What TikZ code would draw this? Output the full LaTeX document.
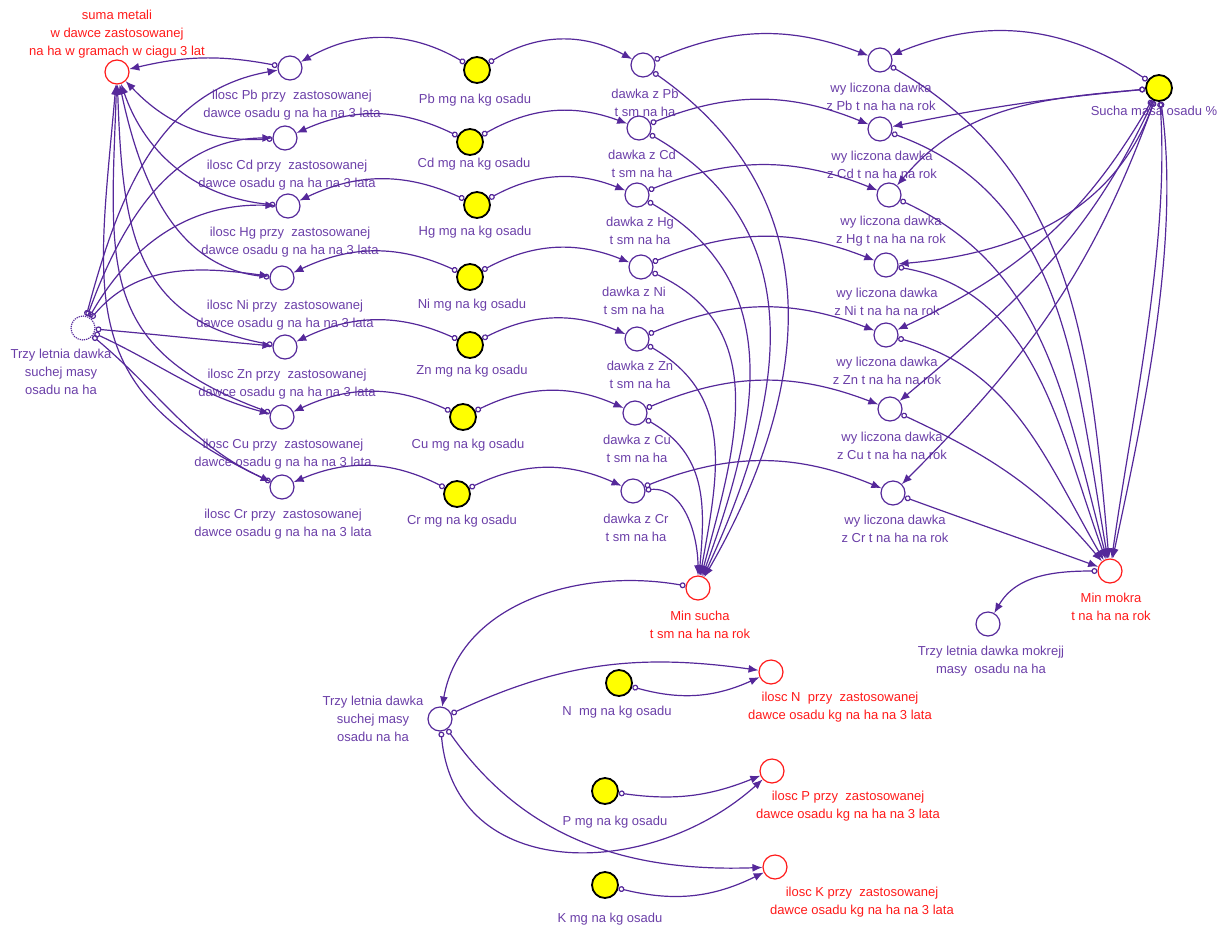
\documentclass[tikz,border=0pt]{standalone}
\usepackage{fontspec}
\setmainfont{Liberation Sans}
\usetikzlibrary{arrows.meta}
\definecolor{VenLine}{HTML}{55289A}
\definecolor{VenText}{HTML}{6B3FA8}
\definecolor{VenRed}{HTML}{FF1A1A}
\definecolor{VenYellow}{HTML}{FFFF00}

\begin{document}
\begin{tikzpicture}[x=1pt, y=-1pt,
        var/.style={circle, draw=VenLine, line width=1.2pt, minimum size=24pt, inner sep=0pt},
        result/.style={var, draw=VenRed},
        ghost/.style={var, densely dotted},
        const/.style={circle, draw=black, fill=VenYellow, line width=1.8pt, minimum size=26pt, inner sep=0pt},
        lbl/.style={font=\fontsize{13}{18}\selectfont, text=VenText, align=center},
        rlbl/.style={lbl, text=VenRed},
        link/.style={draw=VenLine, line width=1.2pt, {Circle[open,length=6pt,width=6pt]}-{Latex[length=10pt,width=8pt]}}
    ]
        \useasboundingbox (0,0) rectangle (1224,927);

        % Suma metali
        \node[result] (suma) at (117,72) {};
        \node[rlbl] (sumaTxt) at (117,34) {suma metali\\w dawce zastosowanej\\na ha w gramach w ciagu 3 lat};

        % Shadow of three-year dose
        \node[ghost] (trzyG) at (83,328) {};
        \node[lbl] (trzyGTxt) at (61,372) {Trzy letnia dawka\\suchej masy\\osadu na ha};

        % Ilosc column
        \node[var] (iloscPb) at (290,68) {};
        \node[lbl] (iloscPbTxt) at (292,105) {ilosc Pb przy~~zastosowanej\\dawce osadu g na ha na 3 lata};
        \node[var] (iloscCd) at (285,138) {};
        \node[lbl] (iloscCdTxt) at (287,175) {ilosc Cd przy~~zastosowanej\\dawce osadu g na ha na 3 lata};
        \node[var] (iloscHg) at (288,206) {};
        \node[lbl] (iloscHgTxt) at (290,242) {ilosc Hg przy~~zastosowanej\\dawce osadu g na ha na 3 lata};
        \node[var] (iloscNi) at (282,278) {};
        \node[lbl] (iloscNiTxt) at (285,315) {ilosc Ni przy~~zastosowanej\\dawce osadu g na ha na 3 lata};
        \node[var] (iloscZn) at (285,347) {};
        \node[lbl] (iloscZnTxt) at (287,384) {ilosc Zn przy~~zastosowanej\\dawce osadu g na ha na 3 lata};
        \node[var] (iloscCu) at (282,417) {};
        \node[lbl] (iloscCuTxt) at (283,454) {ilosc Cu przy~~zastosowanej\\dawce osadu g na ha na 3 lata};
        \node[var] (iloscCr) at (282,487) {};
        \node[lbl] (iloscCrTxt) at (283,524) {ilosc Cr przy~~zastosowanej\\dawce osadu g na ha na 3 lata};

        % Metal content (constants)
        \node[const] (mgPb) at (477,70) {};
        \node[lbl] (mgPbTxt) at (475,100) {Pb mg na kg osadu};
        \node[const] (mgCd) at (470,142) {};
        \node[lbl] (mgCdTxt) at (474,164) {Cd mg na kg osadu};
        \node[const] (mgHg) at (477,205) {};
        \node[lbl] (mgHgTxt) at (475,232) {Hg mg na kg osadu};
        \node[const] (mgNi) at (470,277) {};
        \node[lbl] (mgNiTxt) at (472,305) {Ni mg na kg osadu};
        \node[const] (mgZn) at (470,345) {};
        \node[lbl] (mgZnTxt) at (472,371) {Zn mg na kg osadu};
        \node[const] (mgCu) at (463,417) {};
        \node[lbl] (mgCuTxt) at (468,445) {Cu mg na kg osadu};
        \node[const] (mgCr) at (457,494) {};
        \node[lbl] (mgCrTxt) at (462,521) {Cr mg na kg osadu};

        % Dawka column
        \node[var] (dawkaPb) at (643,65) {};
        \node[lbl] (dawkaPbTxt) at (645,103) {dawka z Pb\\t sm na ha};
        \node[var] (dawkaCd) at (639,128) {};
        \node[lbl] (dawkaCdTxt) at (642,164) {dawka z Cd\\t sm na ha};
        \node[var] (dawkaHg) at (637,195) {};
        \node[lbl] (dawkaHgTxt) at (640,231) {dawka z Hg\\t sm na ha};
        \node[var] (dawkaNi) at (641,267) {};
        \node[lbl] (dawkaNiTxt) at (634,301) {dawka z Ni\\t sm na ha};
        \node[var] (dawkaZn) at (637,339) {};
        \node[lbl] (dawkaZnTxt) at (640,375) {dawka z Zn\\t sm na ha};
        \node[var] (dawkaCu) at (635,413) {};
        \node[lbl] (dawkaCuTxt) at (637,449) {dawka z Cu\\t sm na ha};
        \node[var] (dawkaCr) at (633,491) {};
        \node[lbl] (dawkaCrTxt) at (636,528) {dawka z Cr\\t sm na ha};

        % Wyliczona column
        \node[var] (wylPb) at (880,60) {};
        \node[lbl] (wylPbTxt) at (881,97) {wy liczona dawka\\z Pb t na ha na rok};
        \node[var] (wylCd) at (880,129) {};
        \node[lbl] (wylCdTxt) at (882,165) {wy liczona dawka\\z Cd t na ha na rok};
        \node[var] (wylHg) at (889,195) {};
        \node[lbl] (wylHgTxt) at (891,231) {wy liczona dawka\\z Hg t na ha na rok};
        \node[var] (wylNi) at (886,265) {};
        \node[lbl] (wylNiTxt) at (887,302) {wy liczona dawka\\z Ni t na ha na rok};
        \node[var] (wylZn) at (886,335) {};
        \node[lbl] (wylZnTxt) at (887,371) {wy liczona dawka\\z Zn t na ha na rok};
        \node[var] (wylCu) at (890,409) {};
        \node[lbl] (wylCuTxt) at (892,446) {wy liczona dawka\\z Cu t na ha na rok};
        \node[var] (wylCr) at (893,493) {};
        \node[lbl] (wylCrTxt) at (895,529) {wy liczona dawka\\z Cr t na ha na rok};

        % Dry matter, minima, wet dose
        \node[const] (sucha) at (1159,88) {};
        \node[lbl] (suchaTxt) at (1154,111) {Sucha masa osadu \%};
        \node[result] (minS) at (698,588) {};
        \node[rlbl] (minSTxt) at (700,625) {Min sucha\\t sm na ha na rok};
        \node[result] (minM) at (1110,571) {};
        \node[rlbl] (minMTxt) at (1111,607) {Min mokra\\t na ha na rok};
        \node[var] (trzyM) at (988,624) {};
        \node[lbl] (trzyMTxt) at (991,661) {Trzy letnia dawka mokrejj\\masy~~osadu na ha};

        % Nutrients
        \node[var] (trzyS) at (440,719) {};
        \node[lbl] (trzySTxt) at (373,719) {Trzy letnia dawka\\suchej masy\\osadu na ha};
        \node[const] (mgN) at (619,683) {};
        \node[lbl] (mgNTxt) at (617,712) {N~~mg na kg osadu};
        \node[result] (iloscN) at (771,672) {};
        \node[rlbl] (iloscNTxt) at (840,707) {ilosc N~~przy~~zastosowanej\\dawce osadu kg na ha na 3 lata};
        \node[const] (mgP) at (605,791) {};
        \node[lbl] (mgPTxt) at (615,822) {P mg na kg osadu};
        \node[result] (iloscP) at (772,771) {};
        \node[rlbl] (iloscPTxt) at (848,806) {ilosc P przy~~zastosowanej\\dawce osadu kg na ha na 3 lata};
        \node[const] (mgK) at (605,885) {};
        \node[lbl] (mgKTxt) at (610,919) {K mg na kg osadu};
        \node[result] (iloscK) at (775,867) {};
        \node[rlbl] (iloscKTxt) at (862,902) {ilosc K przy~~zastosowanej\\dawce osadu kg na ha na 3 lata};

        % Pb links
        \draw[link] (mgPb) to[bend right=30] (iloscPb);
        \draw[link] (mgPb) to[bend left=30] (dawkaPb);
        \draw[link] (dawkaPb) to[bend left=22] (wylPb);
        \draw[link] (dawkaPb) to[out=-35,in=60,looseness=1.1] (minS);
        \draw[link] (wylPb) to[out=-30,in=95] (minM);
        \draw[link] (sucha) to[bend right=28] (wylPb);
        \draw[link] (trzyG) to[out=75,in=190] (iloscPb);
        \draw[link] (iloscPb) to[bend right=12] (suma);

        % Cd links
        \draw[link] (mgCd) to[bend right=25] (iloscCd);
        \draw[link] (mgCd) to[bend left=25] (dawkaCd);
        \draw[link] (dawkaCd) to[bend left=22] (wylCd);
        \draw[link] (dawkaCd) to[out=-30,in=65,looseness=1.1] (minS);
        \draw[link] (wylCd) to[out=-20,in=100] (minM);
        \draw[link] (sucha) to[bend right=3] (wylCd);
        \draw[link] (trzyG) to[out=70,in=180] (iloscCd);
        \draw[link] (iloscCd) to[bend left=25] (suma);

        % Hg links
        \draw[link] (mgHg) to[bend right=25] (iloscHg);
        \draw[link] (mgHg) to[bend left=25] (dawkaHg);
        \draw[link] (dawkaHg) to[bend left=22] (wylHg);
        \draw[link] (dawkaHg) to[out=-30,in=70,looseness=1.1] (minS);
        \draw[link] (wylHg) to[out=-25,in=105] (minM);
        \draw[link] (sucha) to[out=185,in=50] (wylHg);
        \draw[link] (trzyG) to[out=60,in=178] (iloscHg);
        \draw[link] (iloscHg) to[out=175,in=-71] (suma);

        % Ni links
        \draw[link] (mgNi) to[bend right=25] (iloscNi);
        \draw[link] (mgNi) to[bend left=25] (dawkaNi);
        \draw[link] (dawkaNi) to[bend left=22] (wylNi);
        \draw[link] (dawkaNi) to[out=-25,in=75,looseness=1.1] (minS);
        \draw[link] (wylNi) to[out=-10,in=110] (minM);
        \draw[link] (sucha) to[out=250,in=5] (wylNi);
        \draw[link] (trzyG) to[out=50,in=172] (iloscNi);
        \draw[link] (iloscNi) to[out=175,in=-78] (suma);

        % Zn links
        \draw[link] (mgZn) to[bend right=25] (iloscZn);
        \draw[link] (mgZn) to[bend left=25] (dawkaZn);
        \draw[link] (dawkaZn) to[bend left=22] (wylZn);
        \draw[link] (dawkaZn) to[out=-30,in=80,looseness=1.1] (minS);
        \draw[link] (wylZn) to[out=-15,in=120] (minM);
        \draw[link] (sucha) to[out=240,in=25] (wylZn);
        \draw[link] (trzyG) to[out=-5,in=175] (iloscZn);
        \draw[link] (iloscZn) to[out=170,in=-88,looseness=1.2] (suma);

        % Cu links
        \draw[link] (mgCu) to[bend right=25] (iloscCu);
        \draw[link] (mgCu) to[bend left=25] (dawkaCu);
        \draw[link] (dawkaCu) to[bend left=22] (wylCu);
        \draw[link] (dawkaCu) to[out=-30,in=85,looseness=1.1] (minS);
        \draw[link] (wylCu) to[out=-25,in=130] (minM);
        \draw[link] (sucha) to[out=245,in=40] (wylCu);
        \draw[link] (trzyG) to[out=-25,in=165] (iloscCu);
        \draw[link] (iloscCu) to[out=160,in=-92,looseness=1.3] (suma);

        % Cr links
        \draw[link] (mgCr) to[bend right=25] (iloscCr);
        \draw[link] (mgCr) to[bend left=25] (dawkaCr);
        \draw[link] (dawkaCr) to[bend left=22] (wylCr);
        \draw[link] (dawkaCr) to[out=5,in=90] (minS);
        \draw[link] (wylCr) to[out=-20,in=160] (minM);
        \draw[link] (sucha) to[out=250,in=45] (wylCr);
        \draw[link] (trzyG) to[out=-40,in=155] (iloscCr);
        \draw[link] (iloscCr) to[out=155,in=-95,looseness=1.3] (suma);

        % Dry matter to wet minimum
        \draw[link] (sucha) to[out=-82,in=78,looseness=0.8] (minM);
        \draw[link] (sucha) to[out=-86,in=82,looseness=0.8] (minM);

        % Minima to three-year doses
        \draw[link] (minS) to[out=170,in=80] (trzyS);
        \draw[link] (minM) to[out=180,in=60] (trzyM);

        % Nutrient links
        \draw[link] (trzyS) to[out=25,in=172] (iloscN);
        \draw[link] (mgN) to[bend right=20] (iloscN);
        \draw[link] (trzyS) to[out=-85,in=222,looseness=1.2] (iloscP);
        \draw[link] (mgP) to[bend right=15] (iloscP);
        \draw[link] (trzyS) to[out=-55,in=182] (iloscK);
        \draw[link] (mgK) to[bend right=20] (iloscK);
    \end{tikzpicture}
\end{document}
